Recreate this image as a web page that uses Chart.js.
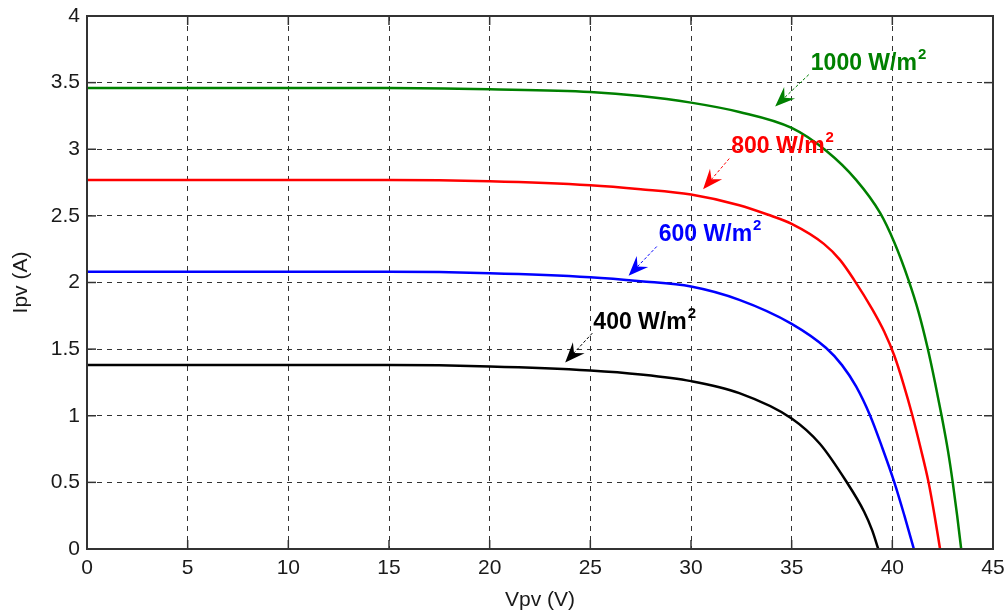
<!DOCTYPE html>
<html>
<head>
<meta charset="utf-8">
<script src="https://cdn.jsdelivr.net/npm/chart.js@4.4.0/dist/chart.umd.min.js"></script>
<style>
  html, body { margin: 0; padding: 0; background: #fff; }
  #wrap { width: 1006px; height: 615px; }
</style>
</head>
<body>
<div id="wrap"><canvas id="ivChart" width="1006" height="615"></canvas></div>
<script>
// I-V curves (V in volts, I in amps)
var v1000 = [0, 5, 10, 15, 20, 25, 27.5, 30, 32.4, 35, 36.7, 38.2, 39.4, 40.1, 40.8, 41.3, 41.75, 42.12, 42.46, 42.76, 43.0, 43.22, 43.42];
var i1000 = [3.46, 3.46, 3.46, 3.46, 3.45, 3.43, 3.40, 3.35, 3.28, 3.16, 2.99, 2.77, 2.52, 2.30, 2.02, 1.78, 1.51, 1.25, 0.99, 0.74, 0.50, 0.25, 0];

var v800 = [0, 5, 10, 15, 20, 25, 27.5, 30, 32.4, 33.8, 35, 36.6, 37.4, 38.1, 39.0, 39.6, 40.1, 40.55, 41, 41.4, 41.8, 42.1, 42.37];
var i800 = [2.77, 2.77, 2.77, 2.77, 2.76, 2.73, 2.70, 2.66, 2.58, 2.51, 2.44, 2.29, 2.17, 2.02, 1.80, 1.63, 1.45, 1.24, 1.0, 0.76, 0.5, 0.25, 0];

var v600 = [0, 5, 10, 15, 20, 25, 27.5, 30, 32.4, 35, 36.7, 37.5, 38.2, 38.9, 39.5, 40.1, 40.6, 41.07];
var i600 = [2.08, 2.08, 2.08, 2.08, 2.07, 2.04, 2.01, 1.97, 1.87, 1.69, 1.51, 1.38, 1.22, 1.0, 0.76, 0.5, 0.25, 0];

var v400 = [0, 5, 10, 15, 20, 25, 27.5, 30, 32.4, 35, 36.4, 37.7, 38.6, 39.0, 39.3];
var i400 = [1.38, 1.38, 1.38, 1.38, 1.37, 1.34, 1.31, 1.26, 1.17, 0.98, 0.79, 0.51, 0.28, 0.14, 0];

var xTicks = [0, 5, 10, 15, 20, 25, 30, 35, 40, 45];
var yTicks = [0, 0.5, 1, 1.5, 2, 2.5, 3, 3.5, 4];

// irradiance labels with arrows (data coords)
var notes = [
  { text: "1000 W/m", color: "#008000", x: 35.95, y: 3.593, tail: [35.85, 3.56], tip: [34.18, 3.32] },
  { text: "800 W/m", color: "#ff0000", x: 32.0, y: 2.971, tail: [31.9, 2.93], tip: [30.6, 2.70] },
  { text: "600 W/m", color: "#0000ff", x: 28.4, y: 2.311, tail: [28.3, 2.27], tip: [26.9, 2.05] },
  { text: "400 W/m", color: "#000000", x: 25.15, y: 1.650, tail: [25.1, 1.62], tip: [23.75, 1.40] }
];

var fontName = "'Liberation Sans', Arial, Helvetica, sans-serif";

function pts(v, i) {
  return v.map(function (x, k) { return { x: x, y: i[k] }; });
}

function curve(v, i, color) {
  return {
    data: pts(v, i),
    borderColor: color,
    backgroundColor: color,
    borderWidth: 2.5,
    pointRadius: 0,
    fill: false,
    cubicInterpolationMode: "monotone"
  };
}

function seg(c, x1, y1, x2, y2) {
  c.beginPath();
  c.moveTo(x1, y1);
  c.lineTo(x2, y2);
  c.stroke();
}

var framePlugin = {
  id: "frame",
  afterDatasetsDraw: function (chart) {
    var c = chart.ctx;
    var a = chart.chartArea;
    var xs = chart.scales.x;
    var ys = chart.scales.y;
    c.save();
    c.strokeStyle = "#333";
    c.lineWidth = 1.5;
    xTicks.forEach(function (t) {
      var px = xs.getPixelForValue(t);
      seg(c, px, a.bottom, px, a.bottom - 9);
      seg(c, px, a.top, px, a.top + 9);
    });
    yTicks.forEach(function (t) {
      var py = ys.getPixelForValue(t);
      seg(c, a.left, py, a.left + 9, py);
      seg(c, a.right, py, a.right - 9, py);
    });
    c.lineWidth = 2;
    c.strokeRect(a.left, a.top, a.right - a.left, a.bottom - a.top);

    // labels + arrows
    notes.forEach(function (n) {
      var tx = xs.getPixelForValue(n.x);
      var ty = ys.getPixelForValue(n.y);
      c.fillStyle = n.color;
      c.textBaseline = "alphabetic";
      c.textAlign = "left";
      c.font = "bold 23px " + fontName;
      c.fillText(n.text, tx, ty);
      var w = c.measureText(n.text).width;
      c.font = "bold 15px " + fontName;
      c.fillText("2", tx + w + 1, ty - 11);

      var x1 = xs.getPixelForValue(n.tail[0]);
      var y1 = ys.getPixelForValue(n.tail[1]);
      var x2 = xs.getPixelForValue(n.tip[0]);
      var y2 = ys.getPixelForValue(n.tip[1]);
      var ang = Math.atan2(y2 - y1, x2 - x1);
      var len = 20, half = 8, notch = 13;
      c.strokeStyle = n.color;
      c.lineWidth = 1;
      c.setLineDash([3, 2]);
      seg(c, x1, y1, x2 - Math.cos(ang) * notch, y2 - Math.sin(ang) * notch);
      c.setLineDash([]);
      var bx = x2 - Math.cos(ang) * len;
      var by = y2 - Math.sin(ang) * len;
      var nx = -Math.sin(ang) * half;
      var ny = Math.cos(ang) * half;
      c.beginPath();
      c.moveTo(x2, y2);
      c.lineTo(bx + nx, by + ny);
      c.lineTo(x2 - Math.cos(ang) * notch, y2 - Math.sin(ang) * notch);
      c.lineTo(bx - nx, by - ny);
      c.closePath();
      c.fill();
    });
    c.restore();
  }
};

var ctx = document.getElementById("ivChart").getContext("2d");

var ivChart = new Chart(ctx, {
  type: "line",
  data: {
    datasets: [
      curve(v1000, i1000, "#008000"),
      curve(v800, i800, "#ff0000"),
      curve(v600, i600, "#0000ff"),
      curve(v400, i400, "#000000")
    ]
  },
  options: {
    responsive: false,
    animation: false,
    layout: { padding: { top: 16, right: 13, left: 0, bottom: 0 } },
    plugins: { legend: { display: false }, tooltip: { enabled: false } },
    scales: {
      x: {
        type: "linear",
        min: 0,
        max: 45,
        afterBuildTicks: function (s) { s.ticks = xTicks.map(function (v) { return { value: v }; }); },
        afterFit: function (s) { s.height = 66; s.paddingLeft = 0; s.paddingRight = 0; },
        grid: { color: "#333", lineWidth: 1, drawTicks: false },
        border: { display: false, dash: [5, 5] },
        ticks: { padding: 7, color: "#1a1a1a", font: { family: fontName, size: 21 },
          callback: function (v) { return String(v); } },
        title: { display: true, text: "Vpv (V)", color: "#1a1a1a", padding: { bottom: 2 }, font: { family: fontName, size: 21 } }
      },
      y: {
        type: "linear",
        min: 0,
        max: 4,
        afterBuildTicks: function (s) { s.ticks = yTicks.map(function (v) { return { value: v }; }); },
        afterFit: function (s) { s.width = 87; s.paddingTop = 0; s.paddingBottom = 0; },
        grid: { color: "#333", lineWidth: 1, drawTicks: false },
        border: { display: false, dash: [5, 5] },
        ticks: { padding: 7, color: "#1a1a1a", font: { family: fontName, size: 21 },
          callback: function (v) { return String(v); } },
        title: { display: true, text: "Ipv (A)", color: "#1a1a1a", padding: { top: 9 }, font: { family: fontName, size: 21 } }
      }
    }
  },
  plugins: [framePlugin]
});
</script>
</body>
</html>
